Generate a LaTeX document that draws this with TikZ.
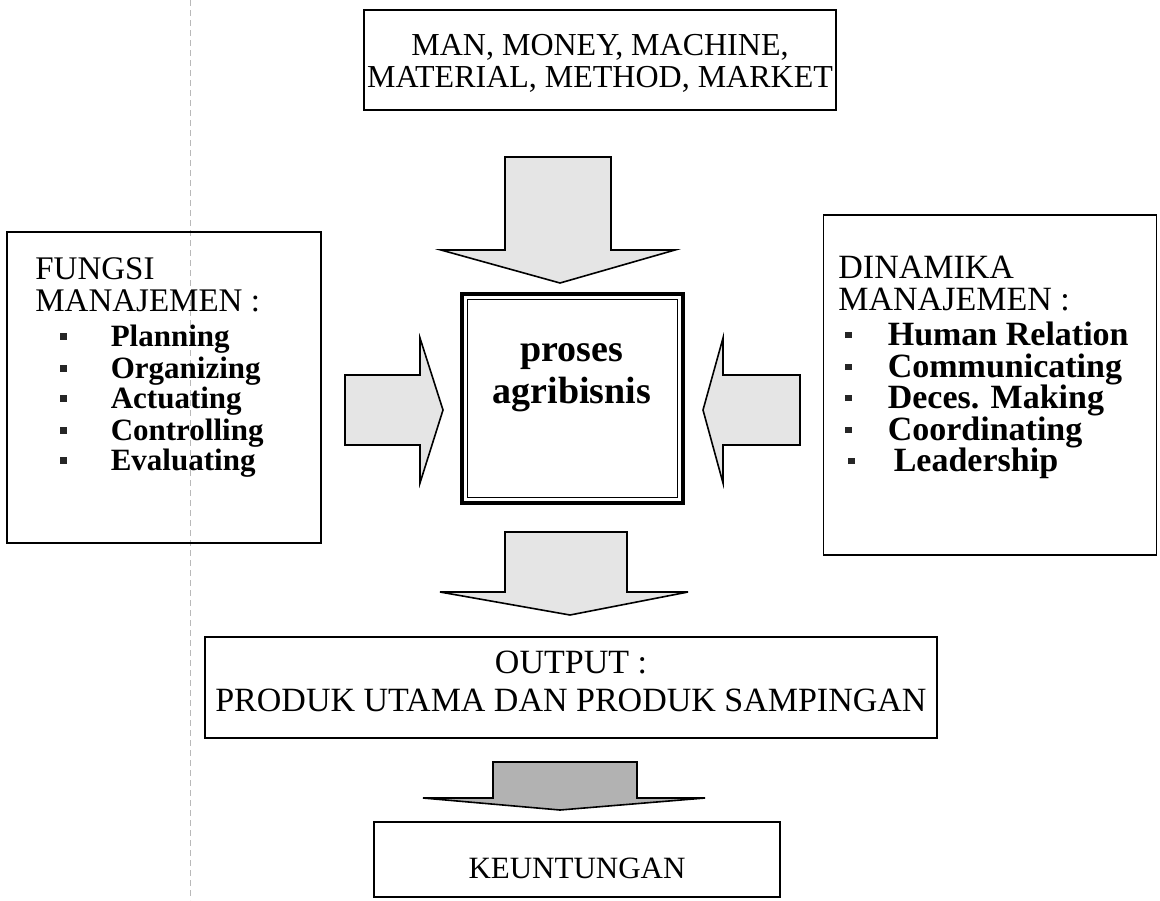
\documentclass[tikz,border=0pt]{standalone}
\usepackage{fontspec}
\setmainfont{Liberation Serif}

% kotak kecil di depan tiap butir
\newcommand{\blt}[1]{\textcolor{black!85}{\rule[0.2em]{3.2pt}{3.2pt}}\hspace{#1}}

\tikzset{
  box/.style={draw, line width=0.8pt, inner sep=0pt},
  blockarrow/.style={draw, line width=0.8pt, fill=gray!20, line join=miter},
  hdr/.style={anchor=base west, inner sep=0pt, font=\fontsize{16.5}{17}\selectfont},
  itm/.style={anchor=base west, inner sep=0pt, font=\fontsize{15.5}{16}\selectfont\bfseries},
  txt/.style={anchor=base, inner sep=0pt, font=\fontsize{16}{17}\selectfont}
}

\begin{document}
\begin{tikzpicture}[x=0.5pt, y=-0.5pt]
    \useasboundingbox (0,0) rectangle (1160,900);
    \draw[gray!55, line width=0.3pt, dash pattern=on 3pt off 2pt] (190,0) -- (190,900);

    % sumber daya
    \node[box, minimum width=236pt, minimum height=50pt] (res) at (600,60) {};
    \node[txt] (res1) at (600,55) {MAN, MONEY, MACHINE,};
    \node[txt] (res2) at (600,87) {MATERIAL, METHOD, MARKET};

    % proses
    \node[box, line width=1.8pt, minimum width=110.5pt, minimum height=104.5pt] (proc) at (572.5,398.5) {};
    \draw[line width=0.6pt] ([shift={(3.5pt,-3.5pt)}]proc.north west) rectangle ([shift={(-3.5pt,3.5pt)}]proc.south east);
    \node[txt, font=\fontsize{19}{20}\selectfont\bfseries] (proc1) at (572,361) {proses};
    \node[txt, font=\fontsize{19}{20}\selectfont\bfseries] (proc2) at (572,403) {agribisnis};

    % fungsi manajemen
    \node[box, minimum width=157pt, minimum height=155.5pt] (fungsi) at (164,387.5) {};
    \node[hdr] (f1) at (35,279) {FUNGSI};
    \node[hdr] (f2) at (35,311) {MANAJEMEN :};
    \node[itm] (plan) at (60,346) {\blt{22pt}Planning};
    \node[itm] (org) at (60,378) {\blt{22pt}Organizing};
    \node[itm] (act) at (60,408) {\blt{22pt}Actuating};
    \node[itm] (ctrl) at (60,440) {\blt{22pt}Controlling};
    \node[itm] (eval) at (60,470) {\blt{22pt}Evaluating};

    % dinamika manajemen
    \node[box, minimum width=166.5pt, minimum height=170pt] (dinamika) at (990,385) {};
    \node[hdr, font=\fontsize{17}{18}\selectfont] (d1) at (838,278) {DINAMIKA};
    \node[hdr, font=\fontsize{17}{18}\selectfont] (d2) at (838,310) {MANAJEMEN :};
    \node[itm, font=\fontsize{17}{17}\selectfont\bfseries] (human) at (845,345) {\blt{18pt}Human Relation};
    \node[itm, font=\fontsize{17}{17}\selectfont\bfseries] (comm) at (845,377) {\blt{18pt}Communicating};
    \node[itm, font=\fontsize{17}{17}\selectfont\bfseries] (dec) at (845,408) {\blt{18pt}Deces. Making};
    \node[itm, font=\fontsize{17}{17}\selectfont\bfseries] (coord) at (845,440) {\blt{18pt}Coordinating};
    \node[itm, font=\fontsize{17}{17}\selectfont\bfseries] (lead) at (848,471) {\blt{19.5pt}Leadership};

    % output
    \node[box, minimum width=366pt, minimum height=50.5pt] (out) at (571,687.5) {};
    \node[txt, font=\fontsize{17}{18}\selectfont] (out1) at (571,673) {OUTPUT :};
    \node[txt, font=\fontsize{17}{18}\selectfont] (out2) at (571,711) {PRODUK UTAMA DAN PRODUK SAMPINGAN};

    \node[box, minimum width=203pt, minimum height=37.5pt] (profit) at (577,859.5) {};
    \node[txt, font=\fontsize{15.5}{16}\selectfont] (profit1) at (577,878) {KEUNTUNGAN};

    % panah
    \draw[blockarrow] (505,157) -- (611,157) -- (611,250) -- (675,250) -- (560,283)
        -- (441,250) -- (505,250) -- cycle;
    \draw[blockarrow] (345,375) -- (420,375) -- (420,338) -- (443,410) -- (420,483)
        -- (420,445) -- (345,445) -- cycle;
    \draw[blockarrow] (800,375) -- (723,375) -- (723,338) -- (703,410) -- (723,483)
        -- (723,445) -- (800,445) -- cycle;
    \draw[blockarrow] (505,532) -- (627,532) -- (627,592) -- (688,592) -- (570,615)
        -- (440,592) -- (505,592) -- cycle;
    \draw[blockarrow, fill=gray!60] (493,762) -- (637,762) -- (637,798) -- (705,798)
        -- (560,810) -- (423,798) -- (493,798) -- cycle;
\end{tikzpicture}
\end{document}
